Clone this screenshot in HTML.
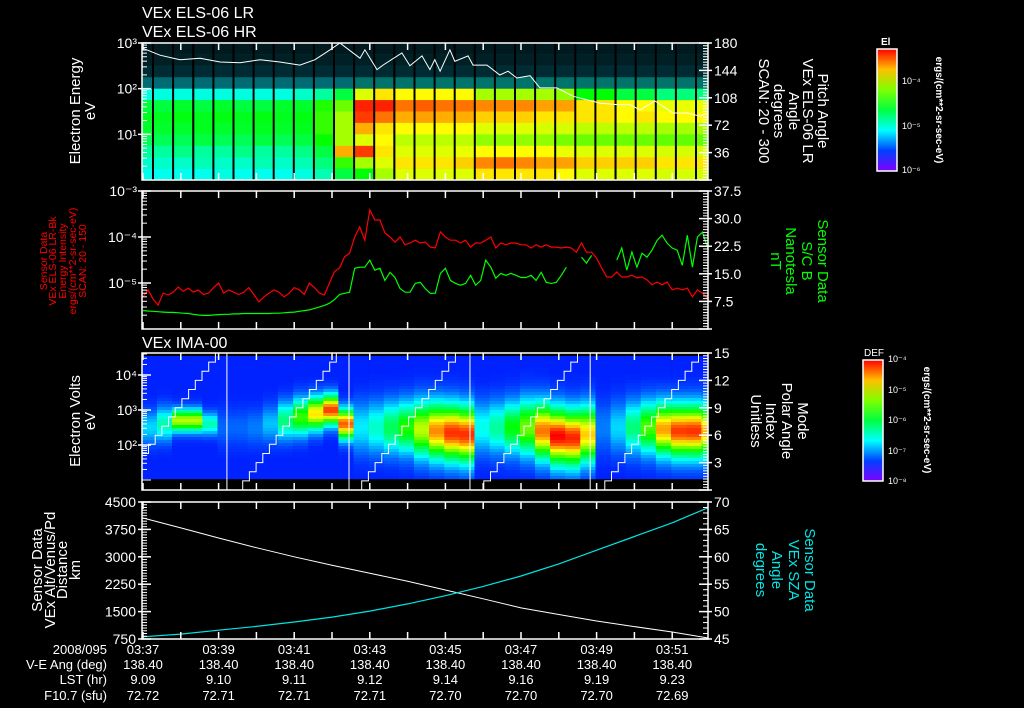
<!DOCTYPE html>
<html><head><meta charset="utf-8">
<style>
html,body{margin:0;padding:0;background:#000;}
svg{display:block;font-family:"Liberation Sans",sans-serif;}
</style></head>
<body>
<svg id="c" width="1024" height="708" xmlns="http://www.w3.org/2000/svg">
<defs>
<clipPath id="cp1"><rect x="142" y="43" width="566" height="137"/></clipPath>
<clipPath id="cp2"><rect x="142" y="191" width="566" height="138"/></clipPath>
<clipPath id="cp3"><rect x="142" y="353" width="566" height="137"/></clipPath>
<clipPath id="cp4"><rect x="142" y="502" width="566" height="137"/></clipPath>
<linearGradient id="rainbow" x1="0" y1="0" x2="0" y2="1">
<stop offset="0" stop-color="hsl(0,100%,50%)"/><stop offset="0.167" stop-color="hsl(45,100%,50%)"/>
<stop offset="0.333" stop-color="hsl(90,100%,50%)"/><stop offset="0.5" stop-color="hsl(135,100%,50%)"/>
<stop offset="0.667" stop-color="hsl(180,100%,50%)"/><stop offset="0.833" stop-color="hsl(225,100%,50%)"/>
<stop offset="1" stop-color="hsl(270,100%,50%)"/>
</linearGradient>
</defs>
<rect width="1024" height="708" fill="#000"/>
<g fill="#fff" font-size="16">
<text x="142" y="18">VEx ELS-06 LR</text>
<text x="142" y="37">VEx ELS-06 HR</text>
<text x="142" y="348">VEx IMA-00</text>
</g>
<g fill="#fff" font-size="15" text-anchor="middle">
<text transform="translate(80,111) rotate(-90)">Electron Energy</text>
<text transform="translate(95,111) rotate(-90)">eV</text>
<text transform="translate(80,421) rotate(-90)">Electron Volts</text>
<text transform="translate(95,421) rotate(-90)">eV</text>
<text transform="translate(42,570) rotate(-90)">Sensor Data</text>
<text transform="translate(55,570) rotate(-90)">VEx Alt/Venus/Pd</text>
<text transform="translate(67,570) rotate(-90)">Distance</text>
<text transform="translate(80,570) rotate(-90)">km</text>
</g>
<g fill="#ff0000" font-size="10.5" text-anchor="middle">
<text transform="translate(47,261) rotate(-90)">Sensor Data</text>
<text transform="translate(56,261) rotate(-90)">VEx ELS-06 LR-Bk</text>
<text transform="translate(66,261) rotate(-90)">Energy Intensity</text>
<text transform="translate(76,261) rotate(-90)">ergs/(cm**2-sr-sec-eV)</text>
<text transform="translate(86,261) rotate(-90)">SCAN: 20 - 150</text>
</g>
<g fill="#fff" font-size="15" text-anchor="middle">
<text transform="translate(818,111) rotate(90)">Pitch Angle</text>
<text transform="translate(803,111) rotate(90)">VEx ELS-06 LR</text>
<text transform="translate(789,111) rotate(90)">Angle</text>
<text transform="translate(774,111) rotate(90)">degrees</text>
<text transform="translate(759,111) rotate(90)">SCAN: 20 - 300</text>
<text transform="translate(798,421) rotate(90)">Mode</text>
<text transform="translate(782,421) rotate(90)">Polar Angle</text>
<text transform="translate(766,421) rotate(90)">Index</text>
<text transform="translate(751,421) rotate(90)">Unitless</text>
</g>
<g fill="#00ff00" font-size="15" text-anchor="middle">
<text transform="translate(818,261) rotate(90)">Sensor Data</text>
<text transform="translate(802,261) rotate(90)">S/C B</text>
<text transform="translate(786,261) rotate(90)">Nanotesla</text>
<text transform="translate(771,261) rotate(90)">nT</text>
</g>
<g fill="#00e5e5" font-size="15" text-anchor="middle">
<text transform="translate(805,570) rotate(90)">Sensor Data</text>
<text transform="translate(789,570) rotate(90)">VEx SZA</text>
<text transform="translate(772,570) rotate(90)">Angle</text>
<text transform="translate(756,570) rotate(90)">degrees</text>
</g>
<g>
<rect x="877" y="49" width="20" height="122" fill="url(#rainbow)" stroke="#fff" stroke-width="1.5"/>
<text x="881" y="45" fill="#fff" font-size="10" font-weight="bold">El</text>
<g fill="#fff" font-size="9"><text x="902" y="84">10⁻⁴</text><text x="902" y="129">10⁻⁵</text><text x="902" y="173">10⁻⁶</text></g>
<text transform="translate(936,110) rotate(90)" fill="#fff" font-size="10" font-weight="bold" text-anchor="middle">ergs/(cm**2-sr-sec-eV)</text>
</g>
<g>
<rect x="863" y="360" width="20" height="121" fill="url(#rainbow)" stroke="#fff" stroke-width="1.5"/>
<text x="864" y="356" fill="#fff" font-size="10">DEF</text>
<g fill="#fff" font-size="9"><text x="888" y="362">10⁻⁴</text><text x="888" y="393">10⁻⁵</text><text x="888" y="423">10⁻⁶</text><text x="888" y="454">10⁻⁷</text><text x="888" y="484">10⁻⁸</text></g>
<text transform="translate(924,420) rotate(90)" fill="#fff" font-size="10" font-weight="bold" text-anchor="middle">ergs/(cm**2-sr-sec-eV)</text>
</g>
<g id="plots"></g>
</svg>
<script>
// ---------------- DATA ----------------
const elsRowsLog = [3,2.75,2.5,2.25,2.0,1.75,1.5,1.25,1.0,0.75,0.5,0.25,0];
// fraction of each energy row filled with counts (sparse speckle at high energy)
const elsRowFill = [0.12,0.15,0.2,0.45,1,1,1,1,1,1,1,1];
const elsSweepMin = 0.532;
const elsStartMin = -0.24;
const elsGrid = [
[0.3,0.3,0.3,0.32,0.36,0.5,0.53,0.52,0.48,0.42,0.38,0.35],
[0.3,0.3,0.3,0.32,0.36,0.5,0.53,0.52,0.48,0.42,0.38,0.35],
[0.3,0.3,0.3,0.32,0.36,0.52,0.54,0.52,0.48,0.44,0.38,0.35],
[0.3,0.3,0.3,0.32,0.36,0.5,0.53,0.53,0.5,0.42,0.4,0.35],
[0.3,0.3,0.3,0.32,0.36,0.52,0.54,0.52,0.48,0.42,0.38,0.36],
[0.3,0.3,0.3,0.32,0.36,0.5,0.53,0.52,0.48,0.44,0.38,0.35],
[0.3,0.3,0.3,0.32,0.36,0.5,0.54,0.53,0.5,0.42,0.4,0.35],
[0.3,0.3,0.3,0.32,0.36,0.52,0.53,0.52,0.48,0.42,0.38,0.35],
[0.3,0.3,0.3,0.32,0.38,0.52,0.54,0.53,0.5,0.44,0.4,0.36],
[0.3,0.3,0.3,0.32,0.42,0.58,0.6,0.6,0.56,0.5,0.45,0.4],
[0.3,0.3,0.3,0.32,0.5,0.65,0.7,0.7,0.7,0.85,0.6,0.5],
[0.3,0.3,0.3,0.35,0.75,0.97,0.95,0.85,0.75,0.95,0.7,0.55],
[0.3,0.3,0.3,0.35,0.8,0.97,0.9,0.8,0.78,0.8,0.75,0.7],
[0.3,0.3,0.3,0.35,0.78,0.9,0.85,0.78,0.72,0.75,0.8,0.75],
[0.3,0.3,0.3,0.35,0.78,0.92,0.86,0.78,0.72,0.75,0.8,0.75],
[0.3,0.3,0.3,0.35,0.78,0.9,0.85,0.78,0.72,0.75,0.8,0.75],
[0.3,0.3,0.3,0.35,0.78,0.9,0.85,0.78,0.72,0.76,0.82,0.75],
[0.3,0.3,0.3,0.35,0.7,0.88,0.82,0.75,0.68,0.78,0.88,0.8],
[0.3,0.3,0.3,0.35,0.7,0.88,0.82,0.75,0.68,0.78,0.9,0.8],
[0.3,0.3,0.3,0.35,0.7,0.88,0.82,0.75,0.68,0.78,0.88,0.8],
[0.3,0.3,0.3,0.35,0.7,0.86,0.8,0.74,0.68,0.78,0.86,0.8],
[0.3,0.3,0.3,0.35,0.68,0.86,0.8,0.74,0.66,0.76,0.86,0.78],
[0.3,0.3,0.3,0.35,0.55,0.8,0.8,0.72,0.65,0.75,0.82,0.75],
[0.3,0.3,0.3,0.35,0.55,0.8,0.8,0.72,0.65,0.75,0.82,0.75],
[0.3,0.3,0.3,0.35,0.5,0.78,0.78,0.72,0.65,0.75,0.82,0.75],
[0.3,0.3,0.3,0.35,0.5,0.78,0.8,0.72,0.65,0.75,0.82,0.75],
[0.3,0.3,0.3,0.35,0.45,0.76,0.78,0.7,0.64,0.74,0.8,0.74],
[0.3,0.3,0.3,0.35,0.45,0.76,0.78,0.7,0.64,0.74,0.8,0.74],
[0.3,0.3,0.3,0.35,0.45,0.76,0.78,0.7,0.64,0.74,0.8,0.74]
];
const pitchTime = [0,0.45,0.98,1.51,2.04,2.57,3.10,3.62,4.15,4.55,4.95,5.21,5.74,5.87,6.19,6.35,6.85,7.06,7.38,7.59,7.72,7.86,8.12,8.25,8.60,8.73,9.10,9.44,9.66,9.89,10.24,10.50,10.95,11.38,12.09,12.54,12.88,13.15,13.54,14.02,14.39,14.74,14.95];
const pitchDeg = [173,164,158,160,155,154,158,155,151,158,171,180,160,171,145,151,167,150,163,145,158,143,171,156,163,151,151,138,143,134,137,121,121,110,101,99,99,92,104,88,88,84,88];

const p2CadenceSec = 8;
const eiLog = [-5.30,-5.15,-5.35,-5.48,-5.22,-5.26,-5.20,-5.09,-5.18,-5.11,-5.2,-5.15,-5.25,-5.22,-5.1,-5.0,-5.22,-5.15,-5.20,-5.25,-5.20,-5.1,-5.25,-5.41,-5.3,-5.22,-5.15,-5.20,-5.3,-5.22,-5.1,-5.15,-5.25,-5.0,-5.1,-5.22,-5.26,-5.0,-4.75,
-4.67,-4.43,-4.35,-4.0,-3.78,-4.07,-3.41,-3.63,-3.63,-3.91,-4.0,-4.11,-4.0,-4.17,-4.13,-4.07,-4.13,-4.11,-4.22,-4.24,-3.89,-4.0,-4.07,-4.07,-4.13,-4.07,-4.22,-4.13,-4.13,-4.07,-4.0,-4.24,-4.13,-4.17,-4.13,-4.13,-4.17,-4.17,-4.24,-4.17,-4.22,-4.17,-4.22,-4.22,-4.24,-4.22,-4.24,-4.33,-4.13,-4.33,-4.33,-4.46,-4.67,-4.87,-4.87,-4.76,-4.87,-4.87,-4.83,-4.89,-4.87,-4.93,-5.04,-4.98,-5.04,-4.98,-5.15,-5.11,-5.15,-5.11,-5.30,-5.15,-5.22,-5.33];
const bNT = [5.0,4.9,4.8,4.7,4.6,4.5,4.5,4.4,4.3,4.2,4.0,3.8,3.7,3.7,3.8,3.9,4.0,4.0,4.1,4.1,4.2,4.2,4.2,4.2,4.2,4.2,4.3,4.3,4.4,4.5,4.6,4.8,5.0,5.2,5.6,6.0,6.4,7.0,8.0,
9.4,9.7,10.0,16.5,16.8,16.8,18.7,16.0,16.5,13.2,15.4,14.0,11.0,10.0,10.0,12.4,12.7,11.0,9.7,9.7,15.1,16.5,13.2,12.4,11.9,12.4,14.6,11.9,13.2,18.7,16.8,13.8,15.1,14.6,15.1,14.6,14.0,14.0,14.6,13.2,15.4,12.7,12.4,12.7,14.6,16.8,null,null,19.5,17.9,20.0,null,null,null,null,18.7,22.0,16.0,20.9,16.8,20.6,19.5,21.4,24.1,25.5,23.3,22.0,21.4,17.3,25.5,16.8,25.0,26.3,22.2];

const imaCadenceSec = 24;
const imaStartMin = -0.03;
const imaPeakLogE = [2.5,2.6,2.7,2.7,2.6,2.5,2.5,2.5,2.6,2.7,2.8,2.9,3.0,2.6,2.5,2.5,2.5,2.5,2.45,2.4,2.35,2.3,2.5,2.5,2.5,2.5,2.4,2.25,2.2,2.3,2.5,2.5,2.5,2.5,2.45,2.4,2.4,2.4];
const imaPeakLevel = [0.3,0.4,0.72,0.72,0.4,0.2,0.2,0.22,0.28,0.45,0.6,0.8,0.95,0.92,0.32,0.38,0.48,0.58,0.72,0.88,0.96,0.96,0.35,0.42,0.55,0.65,0.9,1.0,0.97,0.82,0.22,0.3,0.45,0.62,0.86,0.95,0.96,0.85];
const imaPeakWidth = [0.45,0.45,0.3,0.3,0.3,0.5,0.5,0.5,0.5,0.5,0.5,0.45,0.4,0.4,0.7,0.7,0.7,0.7,0.75,0.75,0.75,0.75,0.7,0.7,0.7,0.75,0.75,0.75,0.75,0.75,0.7,0.7,0.7,0.7,0.7,0.7,0.7,0.7];
const imaBgLevel = 0.14;
const modeChangeMin = [2.22,5.45,8.65,11.83];
const sweepStartMin = [-0.74,2.46,5.61,8.84,12.04];
const polarSteps = [0,1,2,3,4,5,6,7,8,9,10,11,12,13,14,15];
const polarStepMin = 0.177;

const ephemMin = [0,1,2,3,4,5,6,7,8,9,10,11,12,13,14,15];
const altKm = [4062,3790,3515,3250,3000,2770,2550,2330,2090,1850,1600,1420,1243,1090,942,770];
const szaDeg = [45.4,45.9,46.6,47.3,48.1,49.0,50.1,51.4,52.9,54.6,56.5,58.7,61.2,63.7,66.2,69.1];

const tickMin = [0,2,4,6,8,10,12,14];
const timeLabels = ["03:37","03:39","03:41","03:43","03:45","03:47","03:49","03:51"];
const veAng = ["138.40","138.40","138.40","138.40","138.40","138.40","138.40","138.40"];
const lst = ["9.09","9.10","9.11","9.12","9.14","9.16","9.19","9.23"];
const f107 = ["72.72","72.71","72.71","72.71","72.70","72.70","72.70","72.69"];

// --------------- AXES ----------------
const NS = 'http://www.w3.org/2000/svg';
const root = document.getElementById('plots');
const XL = 142, XR = 708;
function tx(t){ return 143 + t*37.8; }
const P = { p1:{top:43,bot:180}, p2:{top:191,bot:329}, p3:{top:353,bot:490}, p4:{top:502,bot:639} };
function yEls(l){ return 180 - l*(137/3); }
function yPitch(d){ return 180 - d/180*137; }
function yEi(l){ return 191 + (-3 - l)*46; }
function yB(b){ return 329 - b/37.5*138; }
function yIma(l){ return 445 - (l-2)*35; }
function yMode(m){ return 490 - m/15*137; }
function yAlt(a){ return 639 - (a-750)/3750*137; }
function ySza(s){ return 639 - (s-45)/25*137; }
function lvlColor(v){ return 'hsl(' + Math.round(270*(1-Math.min(1,v))) + ',100%,50%)'; }
function mk(tag, attrs, parent){
  const e = document.createElementNS(NS, tag);
  for (const k in attrs) e.setAttribute(k, attrs[k]);
  (parent||root).appendChild(e);
  return e;
}

// ---- Panel 1 spectrogram ----
const g1 = mk('g', {'clip-path':'url(#cp1)'});


elsGrid.forEach(function(col, k){
  const t0 = elsStartMin + k*elsSweepMin;
  const x0 = tx(t0), x1 = tx(t0+elsSweepMin) - 2;
  col.forEach(function(v, r){
    if (v <= 0) return;
    const ya = yEls(elsRowsLog[r]), yb = yEls(elsRowsLog[r+1]);
    const c = mk('rect', {x:x0.toFixed(1), y:ya.toFixed(1), width:(x1-x0).toFixed(1), height:(yb-ya+0.3).toFixed(1), fill:lvlColor(v), 'fill-opacity':elsRowFill[r]}, g1);
    
    
  });
});
const pl1 = mk('polyline', {points: pitchTime.map((t,i)=>tx(t).toFixed(1)+','+yPitch(pitchDeg[i]).toFixed(1)).join(' '), fill:'none', stroke:'#fff', 'stroke-width':1}, g1);



// ---- Panel 2 lines ----
const g2 = mk('g', {'clip-path':'url(#cp2)'});


function seriesPath(vals, yf){
  let d = '', pen = false;
  vals.forEach(function(v, i){
    const x = tx(i*p2CadenceSec/60);
    if (v === null){ pen = false; return; }
    d += (pen ? 'L' : 'M') + x.toFixed(1) + ',' + yf(v).toFixed(1);
    pen = true;
  });
  return d;
}
const bLine = mk('path', {d: seriesPath(bNT, yB), fill:'none', stroke:'#00ff00', 'stroke-width':1.2}, g2);


const eiLine = mk('path', {d: seriesPath(eiLog, yEi), fill:'none', stroke:'#ff0000', 'stroke-width':1.2}, g2);



// ---- Panel 3 IMA spectrogram ----
const g3 = mk('g', {'clip-path':'url(#cp3)'});


const imaColMin = imaCadenceSec/60;
imaPeakLogE.forEach(function(pe, i){
  const t0 = imaStartMin + i*imaColMin;
  const x0 = tx(t0), x1 = tx(t0+imaColMin);
  for (let y = 356; y < 478; y += 3){
    const l = 2 + (445 - (y+1.5))/35;
    const v = imaBgLevel + (imaPeakLevel[i]-imaBgLevel)*Math.exp(-Math.pow((l-pe)/imaPeakWidth[i],2));
    const c = mk('rect', {x:x0.toFixed(1), y:y, width:(x1-x0+0.3).toFixed(1), height:3.2, fill:lvlColor(v)}, g3);
    
    
  }
});
modeChangeMin.forEach(function(t){
  const ln = mk('line', {x1:tx(t), x2:tx(t), y1:353, y2:490, stroke:'#fff', 'stroke-width':1}, g3);
  
  
});
sweepStartMin.forEach(function(s){
  let d = '';
  polarSteps.forEach(function(m, k){
    const xa = tx(s + k*polarStepMin), xb = tx(s + (k+1)*polarStepMin);
    d += (k===0 ? 'M' : 'L') + xa.toFixed(1) + ',' + yMode(m).toFixed(1) + 'L' + xb.toFixed(1) + ',' + yMode(m).toFixed(1);
  });
  const p = mk('path', {d:d, fill:'none', stroke:'#fff', 'stroke-width':1}, g3);
  
  
});

// ---- Panel 4 ----
const g4 = mk('g', {'clip-path':'url(#cp4)'});


const altLine = mk('polyline', {points: ephemMin.map((t,i)=>tx(t).toFixed(1)+','+yAlt(altKm[i]).toFixed(1)).join(' '), fill:'none', stroke:'#fff', 'stroke-width':1}, g4);


const szaLine = mk('polyline', {points: ephemMin.map((t,i)=>tx(t).toFixed(1)+','+ySza(szaDeg[i]).toFixed(1)).join(' '), fill:'none', stroke:'#00e5e5', 'stroke-width':1.2}, g4);



// ---- Frames, ticks, labels ----
const ax = mk('g', {stroke:'#fff', 'stroke-width':1.5, fill:'none'});


const lab = mk('g', {fill:'#fff', 'font-size':14});


function line(x1,y1,x2,y2,w){ return mk('line', {x1:x1,y1:y1,x2:x2,y2:y2,'stroke-width':w||1.5}, ax); }
function label(s,x,y,anchor){ const t = mk('text', {x:x,y:y,'text-anchor':anchor||'end'}, lab); t.textContent = s; return t; }

Object.keys(P).forEach(function(k){
  const p = P[k];
  const fr = mk('rect', {x:XL, y:p.top, width:XR-XL, height:p.bot-p.top}, ax);
  
  
  for (let m = 0; m <= 14; m++){
    line(tx(m), p.top, tx(m), p.top+7);
    line(tx(m), p.bot, tx(m), p.bot-7);
  }
});
function logAxis(top, bot, yf, lo, hi, labels){
  for (let e = lo; e < hi; e++){
    for (let m = 1; m < 10; m++){
      const y = yf(e + Math.log10(m));
      if (y < top-0.5 || y > bot+0.5) continue;
      line(XL, y, XL + (m===1 ? 9 : 5), y, 1);
    }
  }
  labels.forEach(function(l){ const y = yf(l[0]); line(XL-4, y, XL+9, y, 1.5); label(l[1], XL-5, y+5); });
}
logAxis(43,180,yEls,0,3,[[3,'10³'],[2,'10²'],[1,'10¹']]);
logAxis(191,329,yEi,-6,-3,[[-3,'10⁻³'],[-4,'10⁻⁴'],[-5,'10⁻⁵']]);
logAxis(353,490,yIma,1,5,[[4,'10⁴'],[3,'10³'],[2,'10²']]);
function linAxis(side, yf, vmin, vmax, step, nMinor, labs){
  const x = side==='L' ? XL : XR, dir = side==='L' ? 1 : -1;
  for (let v = vmin; v <= vmax + 1e-6; v += step/nMinor){
    line(x, yf(v), x + dir*5, yf(v), 1);
  }
  labs.forEach(function(s, i){
    const v = vmin + i*step, y = yf(v);
    if (side==='L'){ line(XL-4, y, XL+9, y, 1.5); label(s, XL-6, y+5); }
    else { line(XR+4, y, XR-9, y, 1.5); label(s, XR+6, y+5, 'start'); }
  });
}
linAxis('L', yAlt, 750, 4500, 750, 10, ['750','1500','2250','3000','3750','4500']);
linAxis('R', yPitch, 0, 180, 36, 10, ['','36','72','108','144','180']);
linAxis('R', yB, 0, 37.5, 7.5, 10, ['','7.5','15.0','22.5','30.0','37.5']);
linAxis('R', yMode, 0, 15, 3, 10, ['','3','6','9','12','15']);
linAxis('R', ySza, 45, 70, 5, 5, ['45','50','55','60','65','70']);

const tb = mk('g', {fill:'#fff', 'font-size':13});


const rowNames = ['2008/095','V-E Ang (deg)','LST (hr)','F10.7 (sfu)'];
const rowVals = [timeLabels, veAng, lst, f107];
const rowY = [654, 669, 684, 700];
rowNames.forEach(function(n, r){
  const t = mk('text', {x:107, y:rowY[r], 'text-anchor':'end'}, tb);
  
  
  t.textContent = n;
  rowVals[r].forEach(function(s, i){
    const v = mk('text', {x:tx(tickMin[i]), y:rowY[r], 'text-anchor':'middle'}, tb);
    
    
    v.textContent = s;
  });
});
</script>
</body></html>
